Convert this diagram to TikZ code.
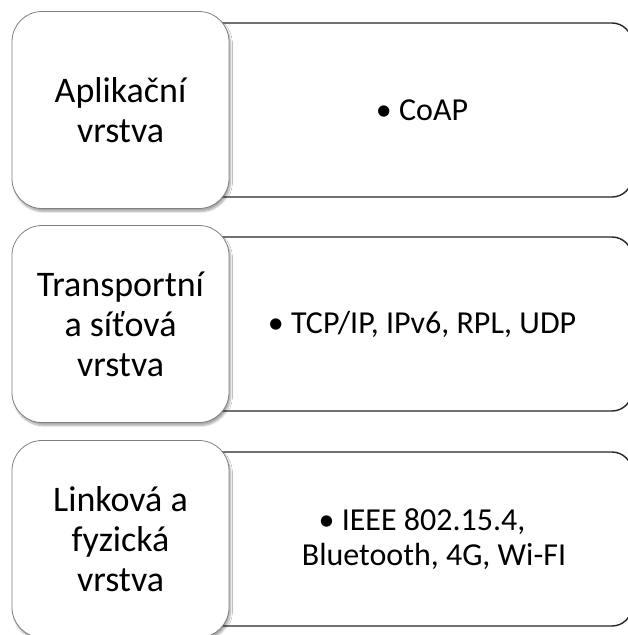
\documentclass[tikz,border=0pt]{standalone}
\usepackage{fontspec}
\setmainfont{Carlito}
\usetikzlibrary{positioning,shadows.blur}

\begin{document}
\begin{tikzpicture}[x=1pt,y=-1pt,
  layer/.style={draw=black!50,line width=0.8pt,fill=white,rounded corners=30pt,
    minimum width=217pt,minimum height=197pt,inner sep=0pt,align=center,
    font=\fontsize{36}{40}\selectfont,
    blur shadow={shadow xshift=1.5pt,shadow yshift=-3pt,shadow opacity=35,shadow blur steps=6}},
  itembox/.style={draw=black!85,line width=1.4pt,fill=white,rounded corners=20pt,
    minimum width=452pt,minimum height=174pt,inner sep=0pt},
  items/.style={align=center,inner sep=0pt,font=\fontsize{32}{35}\selectfont}]
\useasboundingbox (0,0) rectangle (627,635);

\foreach \y/\l/\a/\b in {110/1/{Aplikační\\vrstva}/{• CoAP},
    324/2/{Transportní\\a síťová\\vrstva}/{• TCP/IP, IPv6, RPL, UDP},
    539/3/{Linková a\\fyzická\\vrstva}/{• IEEE 802.15.4,\\\hspace*{24pt}Bluetooth, 4G, Wi-FI}}
{
  \node[itembox] (box\l) at (406,\y) {};
  \node[items] (item\l) at (422,\y) {\b};
  \node[layer] (layer\l) at (120.5,\y) {\a};
}
\end{tikzpicture}
\end{document}
